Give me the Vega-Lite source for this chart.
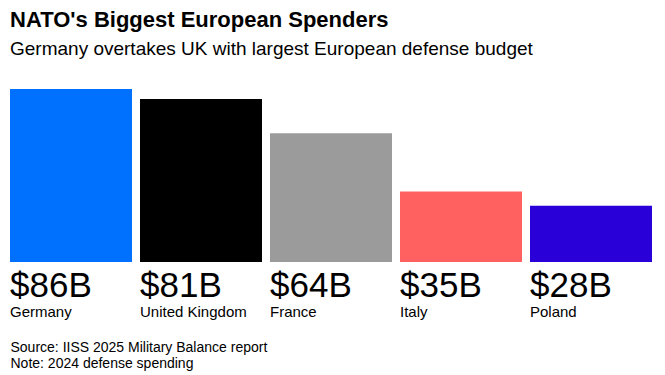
{
  "$schema": "https://vega.github.io/schema/vega-lite/v6.json",
  "width": 642,
  "height": 173,
  "autosize": "none",
  "padding": {"left": 10, "top": 89, "right": 13, "bottom": 113},
  "background": "white",
  "config": {"view": {"stroke": null}, "font": "Liberation Sans"},
  "title": {
    "text": "NATO's Biggest European Spenders",
    "subtitle": "Germany overtakes UK with largest European defense budget",
    "anchor": "start",
    "frame": "group",
    "offset": 29,
    "font": "Liberation Sans",
    "fontSize": 22,
    "fontWeight": "bold",
    "color": "#000000",
    "subtitleFont": "Liberation Sans",
    "subtitleFontSize": 19,
    "subtitleColor": "#000000",
    "subtitlePadding": 8
  },
  "data": {
    "values": [
      {"country": "Germany", "value": 86},
      {"country": "United Kingdom", "value": 81},
      {"country": "France", "value": 64},
      {"country": "Italy", "value": 35},
      {"country": "Poland", "value": 28}
    ]
  },
  "transform": [{"calculate": "'$' + datum.value + 'B'", "as": "label"}],
  "encoding": {
    "x": {
      "field": "country",
      "type": "nominal",
      "sort": null,
      "scale": {"paddingInner": 0.0615, "paddingOuter": 0},
      "axis": {
        "labels": false,
        "ticks": false,
        "domain": false,
        "title": ["Source: IISS 2025 Military Balance report", "Note: 2024 defense spending"],
        "titleAnchor": "start",
        "titleAlign": "left",
        "titleFont": "Liberation Sans",
        "titleFontSize": 14,
        "titleFontWeight": "normal",
        "titleColor": "#000000",
        "titlePadding": 78,
        "titleLineHeight": 16
      }
    }
  },
  "layer": [
    {
      "mark": {"type": "bar"},
      "encoding": {
        "y": {"field": "value", "type": "quantitative", "scale": {"domain": [0, 86]}, "axis": null},
        "color": {
          "field": "country",
          "type": "nominal",
          "sort": null,
          "scale": {
            "domain": ["Germany", "United Kingdom", "France", "Italy", "Poland"],
            "range": ["#0070ff", "#000000", "#9b9b9b", "#ff6161", "#2a00d8"]
          },
          "legend": null
        }
      }
    },
    {
      "mark": {"type": "text", "align": "left", "baseline": "alphabetic", "dy": 35, "fontSize": 35, "font": "Liberation Sans", "color": "#000000"},
      "encoding": {
        "x": {"field": "country", "type": "nominal", "sort": null, "bandPosition": 0},
        "y": {"datum": 0, "type": "quantitative", "scale": {"domain": [0, 86]}},
        "text": {"field": "label"}
      }
    },
    {
      "mark": {"type": "text", "align": "left", "baseline": "alphabetic", "dy": 55, "fontSize": 15, "font": "Liberation Sans", "color": "#000000"},
      "encoding": {
        "x": {"field": "country", "type": "nominal", "sort": null, "bandPosition": 0},
        "y": {"datum": 0, "type": "quantitative", "scale": {"domain": [0, 86]}},
        "text": {"field": "country"}
      }
    }
  ]
}
